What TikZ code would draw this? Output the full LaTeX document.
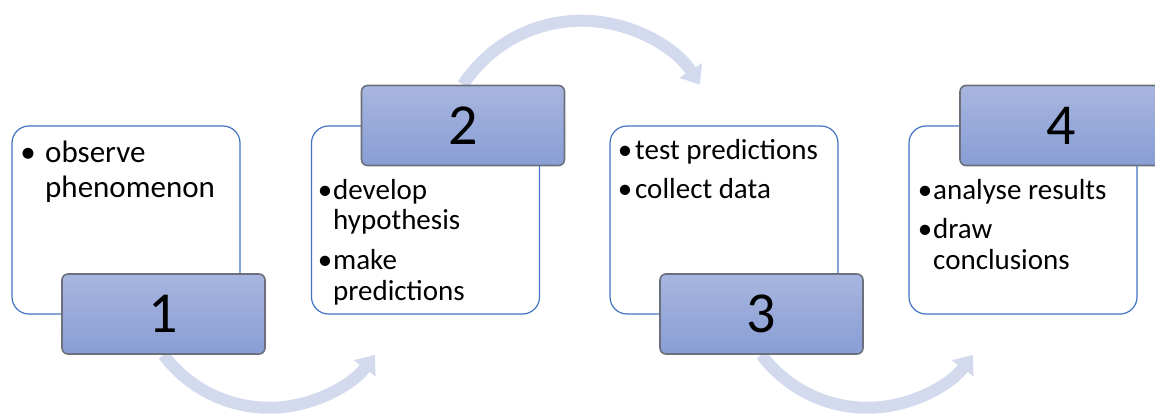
\documentclass[tikz,border=0pt]{standalone}
\usepackage{fontspec}
\setmainfont{Carlito}
\usetikzlibrary{arrows.meta}
\pgfdeclarelayer{behind}
\pgfsetlayers{behind,main}

\definecolor{frameblue}{HTML}{4472C4}
\definecolor{tabtop}{HTML}{A8B5DF}
\definecolor{tabbottom}{HTML}{889ED5}
\definecolor{tabedge}{HTML}{6B707C}
\definecolor{flowcol}{HTML}{D4DAEE}

% bullet centred on the left edge of a column of the given width
\newcommand{\bul}[1]{\makebox[#1][l]{\makebox[0pt][c]{•}}}

\begin{document}
\begin{tikzpicture}[x=1pt,y=1pt,
  card/.style={draw=frameblue, line width=1.2pt, fill=white, rounded corners=17pt,
    minimum width=228pt, minimum height=188pt, inner sep=0pt},
  tab/.style={draw=tabedge, line width=1.6pt, rounded corners=6pt,
    top color=tabtop, bottom color=tabbottom,
    minimum width=203pt, minimum height=80pt, inner sep=0pt,
    font=\fontsize{58}{60}\selectfont},
  flow/.style={draw=flowcol, line width=12pt, -{Triangle[width=26pt,length=17pt]}},
  items/.style={anchor=base west, inner sep=0pt, align=left,
    font=\fontsize{29}{30.5}\selectfont}
]
\useasboundingbox (0,0) rectangle (1155,416);
\clip (0,0) rectangle (1155,416);

% white cards
\node[card] (c1) at (126,196) {};
\node[card] (c2) at (425.5,196) {};
\node[card] (c3) at (724,196) {};
\node[card] (c4) at (1023,196) {};

% numbered tabs
\node[tab] (t1) at (163.5,102) {1};
\node[tab] (t2) at (463,290.5) {2};
\node[tab] (t3) at (761.5,102) {3};
\node[tab] (t4) at (1061.5,290.5) {4};

% card texts
\node[items, font=\fontsize{31}{35}\selectfont] (x1) at (28,254)
  {\begin{tabular}[t]{@{}l@{}l@{}}\bul{17pt}&observe\\ &phenomenon\end{tabular}};
\node[items] (x2) at (325,217)
  {\begin{tabular}[t]{@{}l@{}l@{}}\bul{8pt}&develop\\ &hypothesis\\[9.5pt]
   \bul{8pt}&make\\ &predictions\end{tabular}};
\node[items] (x3) at (625,256.5)
  {\begin{tabular}[t]{@{}l@{}l@{}}\bul{10pt}&test predictions\\[8pt]
   \bul{10pt}&collect data\end{tabular}};
\node[items] (x4) at (925,217)
  {\begin{tabular}[t]{@{}l@{}l@{}}\bul{8pt}&analyse results\\[9pt]
   \bul{8pt}&draw\\ &conclusions\end{tabular}};

% curved arrows between the steps
\begin{pgfonlayer}{behind}
\draw[flow] (t1.south) arc[start angle=216.8, end angle=323.2, radius=132pt];
\draw[flow] (t2.north) arc[start angle=146.75, end angle=33.25, radius=141.7pt];
\draw[flow] (t3.south) arc[start angle=216.8, end angle=323.2, radius=132pt];
\end{pgfonlayer}
\end{tikzpicture}
\end{document}
